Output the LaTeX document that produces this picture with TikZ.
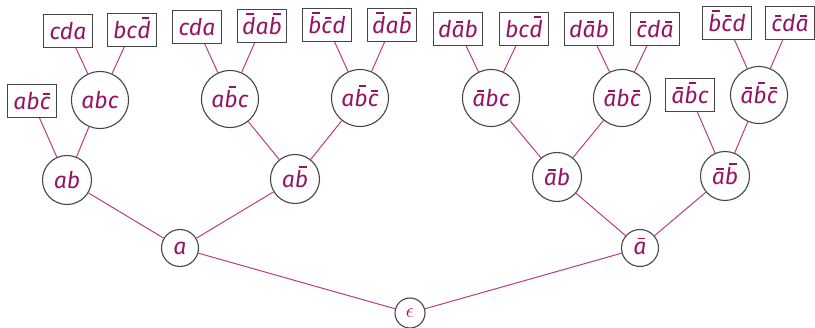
\documentclass[tikz,border=0pt]{standalone}
\usepackage{fontspec}
\setmainfont{Fira Sans}
\definecolor{txt}{RGB}{150,20,100}
\definecolor{lnc}{RGB}{185,60,135}
\definecolor{bord}{RGB}{70,70,70}
\newcommand\ob[1]{\setbox0\hbox{#1}\rlap{\kern0.32\wd0\smash{\raisebox{\dimexpr\ht0+2.5pt\relax}{\rule{0.58\wd0}{1.3pt}}}}\box0}
\begin{document}
\begin{tikzpicture}[x=1pt,y=-1pt,
  every node/.style={font=\fontsize{23}{27}\selectfont\itshape, text=txt},
  circ/.style={circle,draw=bord,line width=1.1pt,fill=white,inner sep=0pt},
  cz/.style={circ,minimum size=30pt},
  cone/.style={circ,minimum size=37pt},
  ctwo/.style={circ,minimum size=49pt},
  cthree/.style={circ,minimum size=57pt},
  bx/.style={rectangle,draw=bord,line width=1.1pt,fill=white,minimum width=49pt,minimum height=33pt,inner sep=0pt},
  link/.style={draw=lnc,line width=1pt}]
\useasboundingbox (0,0) rectangle (815,328);
% level 0,1
\node[cz] (e) at (410,313) {\fontsize{21}{23}\selectfont$\epsilon$};
\node[cone] (a) at (180,248) {a};
\node[cone] (na) at (640,248) {\ob{a}};
% level 2
\node[ctwo] (ab) at (67,180) {ab};
\node[ctwo] (anb) at (295,179) {a\ob{b}};
\node[ctwo] (nab) at (557,177) {\ob{a}b};
\node[ctwo] (nanb) at (725,176) {\ob{a}\ob{b}};
% level 3
\node[bx] (abnc) at (32,101) {ab\ob{c}};
\node[cthree] (abc) at (100,100) {abc};
\node[cthree] (anbc) at (230,99) {a\ob{b}c};
\node[cthree] (anbnc) at (360,98) {a\ob{b}\ob{c}};
\node[cthree] (nabc) at (491,98) {\ob{a}bc};
\node[cthree] (nabnc) at (622,98) {\ob{a}b\ob{c}};
\node[bx] (nanbc) at (690,95) {\ob{a}\ob{b}c};
\node[cthree] (nanbnc) at (759,95) {\ob{a}\ob{b}\ob{c}};
% level 4 boxes
\node[bx] (t1) at (68,31) {cda};
\node[bx] (t2) at (132,30) {bc\ob{d}};
\node[bx] (t3) at (197,27) {cda};
\node[bx] (t4) at (262,26) {\ob{d}a\ob{b}};
\node[bx] (t5) at (327,25) {\ob{b}\ob{c}d};
\node[bx] (t6) at (392,25) {\ob{d}a\ob{b}};
\node[bx] (t7) at (458,29) {d\ob{a}b};
\node[bx] (t8) at (524,29) {bc\ob{d}};
\node[bx] (t9) at (589,29) {d\ob{a}b};
\node[bx] (t10) at (655,29) {\ob{c}d\ob{a}};
\node[bx] (t11) at (727,23) {\ob{b}\ob{c}d};
\node[bx] (t12) at (790,23) {\ob{c}d\ob{a}};
% connectors
\path[link] (e) -- (a) (e) -- (na)
  (a) -- (ab) (a) -- (anb) (na) -- (nab) (na) -- (nanb)
  (ab) -- (abnc) (ab) -- (abc) (anb) -- (anbc) (anb) -- (anbnc)
  (nab) -- (nabc) (nab) -- (nabnc) (nanb) -- (nanbc) (nanb) -- (nanbnc)
  (abc) -- (t1) (abc) -- (t2) (anbc) -- (t3) (anbc) -- (t4)
  (anbnc) -- (t5) (anbnc) -- (t6) (nabc) -- (t7) (nabc) -- (t8)
  (nabnc) -- (t9) (nabnc) -- (t10) (nanbnc) -- (t11) (nanbnc) -- (t12);
\end{tikzpicture}
\end{document}
